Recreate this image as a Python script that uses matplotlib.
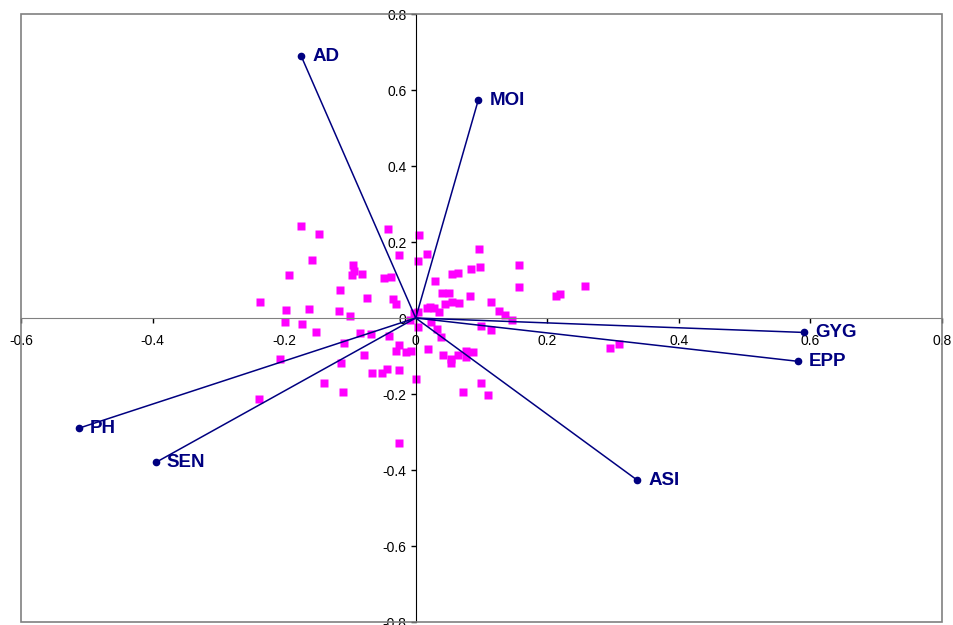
import matplotlib
matplotlib.use("Agg")
import matplotlib.pyplot as plt
from matplotlib.patches import Rectangle

# biplot: variable loadings (vectors) and sample scores (squares)
var_names = ["AD", "MOI", "GYG", "EPP", "ASI", "PH", "SEN"]
var_x = [-0.174, 0.095, 0.590, 0.581, 0.337, -0.512, -0.395]
var_y = [0.689, 0.573, -0.038, -0.114, -0.427, -0.290, -0.380]

score_x = [-0.174, -0.147, -0.042, 0.005, -0.158, -0.025, 0.004, 0.017, -0.193, -0.095,
           -0.094, -0.097, -0.081, -0.048, -0.038, -0.115, -0.237, -0.074, -0.035, -0.030,
           -0.197, -0.162, -0.116, -0.100, -0.003, 0.003, 0.017, -0.199, -0.173, -0.009,
           -0.152, 0.004, -0.085, -0.068, -0.041, -0.109, -0.206, -0.079, -0.026, -0.030,
           -0.015, -0.007, -0.114, -0.066, -0.051, -0.044, -0.025, 0.000, -0.139, -0.110,
           -0.238, -0.025, 0.096, 0.157, 0.055, 0.065, 0.084, 0.097, 0.030, 0.040,
           0.051, 0.082, 0.045, 0.055, 0.066, 0.021, 0.028, 0.035, 0.115, 0.126,
           0.136, 0.147, 0.157, 0.213, 0.219, 0.258, 0.100, 0.115, 0.023, 0.032,
           0.038, 0.296, 0.309, 0.019, 0.042, 0.053, 0.053, 0.065, 0.076, 0.076,
           0.087, 0.100, 0.072, 0.110]
score_y = [0.242, 0.222, 0.235, 0.218, 0.152, 0.165, 0.149, 0.169, 0.113, 0.139,
           0.123, 0.114, 0.116, 0.104, 0.108, 0.073, 0.042, 0.052, 0.049, 0.036,
           0.020, 0.025, 0.019, 0.005, 0.012, 0.016, 0.027, -0.011, -0.015, -0.006,
           -0.037, -0.024, -0.039, -0.043, -0.048, -0.065, -0.107, -0.098, -0.072, -0.087,
           -0.089, -0.087, -0.118, -0.145, -0.145, -0.133, -0.136, -0.160, -0.171, -0.194,
           -0.214, -0.329, 0.181, 0.140, 0.117, 0.119, 0.128, 0.133, 0.097, 0.067,
           0.067, 0.059, 0.038, 0.042, 0.039, 0.029, 0.027, 0.016, 0.043, 0.018,
           0.007, -0.006, 0.082, 0.057, 0.062, 0.083, -0.021, -0.031, -0.011, -0.028,
           -0.050, -0.079, -0.069, -0.082, -0.098, -0.107, -0.118, -0.098, -0.087, -0.103,
           -0.089, -0.171, -0.196, -0.203]

xticks = [-0.6, -0.4, -0.2, 0, 0.2, 0.4, 0.6, 0.8]
yticks = [-0.8, -0.6, -0.4, -0.2, 0, 0.2, 0.4, 0.6, 0.8]

plt.rcParams["font.family"] = ["Liberation Sans", "DejaVu Sans"]

fig = plt.figure(figsize=(9.54, 6.25), dpi=100)
ax = fig.add_axes([21 / 954, 3 / 625, 921 / 954, 608 / 625])

navy = "#000080"
for name, vx, vy in zip(var_names, var_x, var_y):
    ax.plot([0, vx], [0, vy], color=navy, lw=1.1, zorder=3)
    ax.plot(vx, vy, "o", color=navy, ms=4.5, zorder=4)
    ax.annotate(name, (vx, vy), xytext=(8, 0), textcoords="offset points",
                va="center", ha="left", fontsize=13.5, fontweight="bold", color=navy)

ax.plot(score_x, score_y, "s", color="#FF00FF", ms=6, mec="none", zorder=2)

ax.set_xlim(-0.6, 0.8)
ax.set_ylim(-0.8, 0.8)
ax.set_xticks(xticks)
ax.set_yticks(yticks)
ax.set_xticklabels([f"{t:g}" for t in xticks])
ax.set_yticklabels([f"{t:g}" for t in yticks])

ax.spines["left"].set_position(("data", 0))
ax.spines["bottom"].set_position(("data", 0))
ax.spines["left"].set_color("black")
ax.spines["bottom"].set_color("#808080")
ax.spines["top"].set_visible(False)
ax.spines["right"].set_visible(False)
ax.tick_params(direction="out", length=3.5, width=1, labelsize=10)
ax.tick_params(axis="x", pad=8)
ax.tick_params(axis="y", pad=3)
ax.add_patch(Rectangle((0, 0), 1, 1, transform=ax.transAxes, fill=False,
                       edgecolor="#808080", lw=1.2, clip_on=False, zorder=5))

fig.savefig("out.png", dpi=100)
